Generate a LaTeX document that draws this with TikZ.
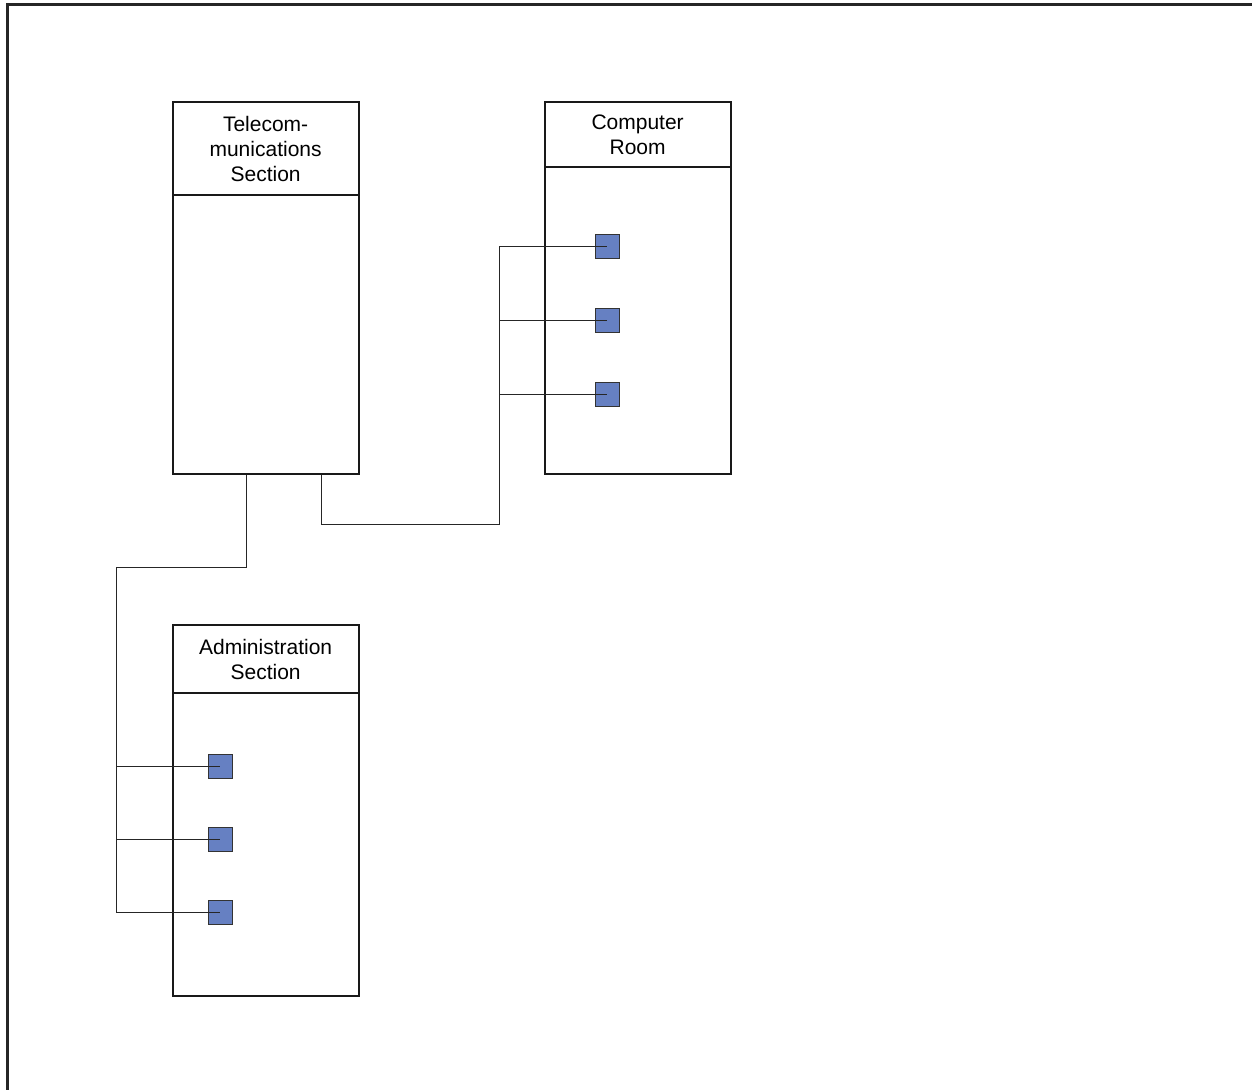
\documentclass[tikz,border=0pt]{standalone}
\usepackage{fontspec}
\setmainfont{Liberation Sans}
\definecolor{portblue}{RGB}{102,128,194}
\begin{document}
\begin{tikzpicture}[x=0.5pt,y=-0.5pt,
  frame/.style={line width=1.5pt,black!85},
  room/.style={draw=black!90,line width=1.1pt,rectangle,minimum width=93pt,inner sep=0pt,anchor=north west},
  header/.style={room,font=\fontsize{10.5pt}{12.5pt}\selectfont,align=center},
  port/.style={draw=black!80,line width=0.5pt,fill=portblue,rectangle,minimum size=12pt,inner sep=0pt},
  wire/.style={line width=0.5pt,black!85}]
\useasboundingbox (0,0) rectangle (1252,1090);
% page frame
\draw[frame] (7,1090) -- (7,5) -- (1252,5);

% rooms
\node[room,minimum height=186pt] (tele) at (171.5,101) {};
\node[header,minimum height=46.5pt] (telehead) at (171.5,101) {Telecom-\\munications\\Section};
\node[room,minimum height=186pt] (comp) at (543.5,101) {};
\node[header,minimum height=32.5pt] (comphead) at (543.5,101) {Computer\\Room};
\node[room,minimum height=185.5pt] (admin) at (171.5,624) {};
\node[header,minimum height=34pt] (adminhead) at (171.5,624) {Administration\\Section};

% outlets
\node[port] (c1) at (607,247) {};
\node[port] (c2) at (607,321) {};
\node[port] (c3) at (607,395) {};
\node[port] (a1) at (220,766) {};
\node[port] (a2) at (220,839) {};
\node[port] (a3) at (220,912) {};

% cable routes
\coordinate (tapR) at (321,0);
\coordinate (tapL) at (246,0);
\coordinate (joinR) at (499,525);
\coordinate (joinL) at (116,567);
\draw[wire] (tele.south -| tapR) |- (joinR) |- (c1.center);
\draw[wire] (joinR |- c2) -- (c2.center);
\draw[wire] (joinR |- c3) -- (c3.center);
\draw[wire] (tele.south -| tapL) |- (joinL) |- (a3.center);
\draw[wire] (joinL |- a1) -- (a1.center);
\draw[wire] (joinL |- a2) -- (a2.center);
\end{tikzpicture}
\end{document}
